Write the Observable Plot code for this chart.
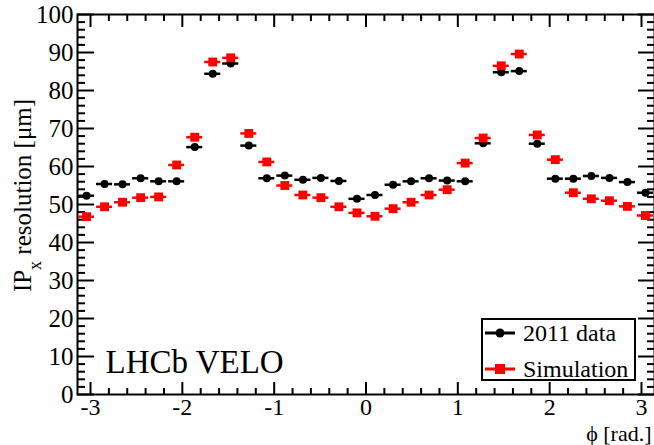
<!DOCTYPE html>
<html><head><meta charset="utf-8">
<script src="https://cdn.jsdelivr.net/npm/d3@7"></script>
<script src="https://cdn.jsdelivr.net/npm/@observablehq/plot@0.6"></script>
<style>
body{margin:0;background:#fff;}
#wrap{position:relative;width:654px;height:445px;font-family:"Liberation Serif","Times New Roman",serif;overflow:hidden}
#wrap svg{display:block}
.legend{position:absolute;left:481px;top:318px;width:155px;height:63px;border:2px solid #000;background:#fff;box-sizing:border-box}
.legend .row{position:absolute;left:0;height:30px;display:flex;align-items:center}
.legend .row span{font-size:24px;margin-left:6px;line-height:30px}
</style></head><body><div id="wrap"></div><script>
// bin centres of phi (rad), 32 bins from -pi to pi
const phi = [-3.043,-2.847,-2.651,-2.454,-2.258,-2.062,-1.865,-1.669,-1.473,-1.276,-1.080,-0.884,-0.687,-0.491,-0.295,-0.098,
             0.098,0.295,0.491,0.687,0.884,1.080,1.276,1.473,1.669,1.865,2.062,2.258,2.454,2.651,2.847,3.043];
const dataRes = [52.3,55.4,55.3,56.9,56.1,56.1,65.1,84.4,87.1,65.5,56.9,57.6,56.5,57.0,56.2,51.5,
                 52.5,55.2,56.1,56.9,56.3,56.1,66.1,84.8,85.1,66.0,56.8,56.8,57.5,57.0,55.9,53.1];
const simRes  = [46.8,49.4,50.6,51.8,52.0,60.4,67.7,87.5,88.6,68.7,61.2,55.0,52.5,51.8,49.4,47.8,
                 46.9,48.9,50.6,52.5,53.9,60.9,67.5,86.5,89.6,68.3,61.8,53.1,51.5,51.0,49.5,47.1];
const xMajorTicks = [-3,-2,-1,0,1,2,3];
const yMajorTicks = [0,10,20,30,40,50,60,70,80,90,100];
const seriesNames = ["2011 data","Simulation"];
const seriesColors = ["#000000","#ff0000"];

const halfBin = Math.PI / phi.length;
const rows = phi.map((p, i) => ({phi: p, data: dataRes[i], sim: simRes[i]}));
const xMinor = d3.range(-30, 31, 2).map(d => d / 10).filter(d => !xMajorTicks.includes(d));
const yMinor = d3.range(0, 101, 2).filter(d => !yMajorTicks.includes(d));

const font = "Liberation Serif";
const tick = (axis, opts) => axis({text: null, stroke: "#000", strokeWidth: 2, label: null, ...opts});

const chart = Plot.plot({
  width: 654, height: 445,
  marginLeft: 77, marginRight: 0, marginTop: 14, marginBottom: 51,
  style: {fontFamily: font, fontSize: "25px", background: "#fff", color: "#000"},
  x: {domain: [-Math.PI, Math.PI]},
  y: {domain: [0, 100]},
  marks: [
    // inward ticks on all four sides
    tick(Plot.axisX, {anchor: "bottom", ticks: xMajorTicks, tickSize: -12}),
    tick(Plot.axisX, {anchor: "bottom", ticks: xMinor, tickSize: -6}),
    tick(Plot.axisX, {anchor: "top", ticks: xMajorTicks, tickSize: -12}),
    tick(Plot.axisX, {anchor: "top", ticks: xMinor, tickSize: -6}),
    tick(Plot.axisY, {anchor: "left", ticks: yMajorTicks, tickSize: -17}),
    tick(Plot.axisY, {anchor: "left", ticks: yMinor, tickSize: -8}),
    tick(Plot.axisY, {anchor: "right", ticks: yMajorTicks, tickSize: -17}),
    tick(Plot.axisY, {anchor: "right", ticks: yMinor, tickSize: -8}),
    // tick labels
    Plot.axisX({anchor: "bottom", ticks: xMajorTicks, tickSize: 0, tickPadding: 3, tickFormat: d => String(d).replace("\u2212", "-"), label: null, fontSize: 24}),
    Plot.axisY({anchor: "left", ticks: yMajorTicks, tickSize: 0, tickPadding: 4, label: null, fontSize: 25}),
    Plot.frame({stroke: "#000", strokeWidth: 2}),
    // error bars (bin widths) and markers
    Plot.ruleY(rows, {y: "data", x1: d => d.phi - halfBin, x2: d => d.phi + halfBin, stroke: seriesColors[0], strokeWidth: 2.5, insetLeft: 1, insetRight: 1}),
    Plot.dot(rows, {x: "phi", y: "data", r: 4, fill: seriesColors[0], stroke: null}),
    Plot.ruleY(rows, {y: "sim", x1: d => d.phi - halfBin, x2: d => d.phi + halfBin, stroke: seriesColors[1], strokeWidth: 2.5, insetLeft: 1, insetRight: 1}),
    Plot.dot(rows, {x: "phi", y: "sim", symbol: "square", r: 5, fill: seriesColors[1], stroke: null}),
    // annotations
    Plot.text(["LHCb VELO"], {frameAnchor: "bottom-left", dx: 28, dy: -22, text: d => d, fontSize: 33, textAnchor: "start", lineAnchor: "bottom", fill: "#000"}),
    Plot.text(["IPX_LABEL"], {frameAnchor: "left", dx: -55, dy: -9, text: d => d, rotate: -90, fontSize: 25, textAnchor: "middle", lineAnchor: "middle", fill: "#000"}),
    Plot.text(["\u03d5 [rad.]"], {frameAnchor: "bottom-right", dx: -3, dy: 46, text: d => d, fontSize: 22, textAnchor: "end", lineAnchor: "bottom", fill: "#000"})
  ]
});

document.getElementById("wrap").appendChild(chart);

// y-axis title with subscript
d3.select(chart).selectAll("text").filter(function(){ return this.textContent === "IPX_LABEL"; }).each(function(){
  const t = d3.select(this);
  t.text(null);
  t.append("tspan").text("IP");
  t.append("tspan").attr("baseline-shift", "sub").attr("font-size", "18").text("x");
  t.append("tspan").text(" resolution [\u03bcm]");
});

// legend
const legend = document.createElement("div");
legend.className = "legend";
seriesNames.forEach((name, i) => {
  const row = document.createElement("div");
  row.className = "row";
  row.style.top = (i === 0 ? -2 : 34) + "px";
  const sym = d3.create("svg").attr("width", 34).attr("height", 30);
  sym.append("line").attr("x1", 2).attr("x2", 32).attr("y1", 15).attr("y2", 15).attr("stroke", seriesColors[i]).attr("stroke-width", 3);
  if (i === 0) sym.append("circle").attr("cx", 17).attr("cy", 15).attr("r", 4.5).attr("fill", seriesColors[i]);
  else sym.append("rect").attr("x", 12).attr("y", 10).attr("width", 10).attr("height", 10).attr("fill", seriesColors[i]);
  row.appendChild(sym.node());
  const s = document.createElement("span");
  s.textContent = name;
  row.appendChild(s);
  legend.appendChild(row);
});
document.getElementById("wrap").appendChild(legend);
</script></body></html>
